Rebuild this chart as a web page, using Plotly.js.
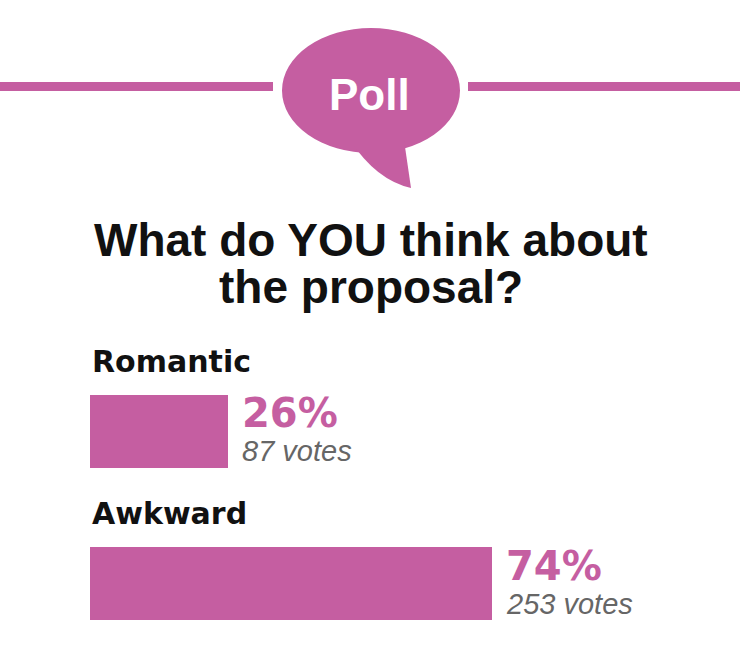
<!DOCTYPE html>
<html>
<head>
<meta charset="utf-8">
<script src="https://cdn.plot.ly/plotly-3.0.1.min.js"></script>
<style>
html,body{margin:0;padding:0;background:#fff;}
#chart{width:740px;height:667px;}
</style>
</head>
<body>
<div id="chart"></div>
<script>
// ---- data ----
var categories = ["Romantic", "Awkward"];
var votes = [87, 253];
var percentLabels = ["26%", "74%"];
var voteLabels = ["87 votes", "253 votes"];
var headerLabel = "Poll";
var titleLines = ["What do YOU think about", "the proposal?"];

// ---- styling / layout helpers ----
var PINK = "#c55ea1";
var W = 740, H = 667;
var M = {l: 90, r: 110, t: 355, b: 7};
var plotW = W - M.l - M.r, plotH = H - M.t - M.b;
function px(x) { return (x - M.l) / plotW; }
function py(y) { return (H - M.b - y) / plotH; }

var totalVotes = votes.reduce(function (a, b) { return a + b; }, 0);
var yIdx = categories.map(function (c, i) { return i; });

var trace = {
  type: "bar",
  orientation: "h",
  x: votes,
  y: yIdx,
  width: 0.479,
  marker: {color: PINK, line: {width: 0}},
  hoverinfo: "skip"
};

var annotations = [];
categories.forEach(function (c, i) {
  annotations.push({
    xref: "x", yref: "y", x: 0, y: i, xanchor: "left", yanchor: "middle",
    yshift: 70, showarrow: false, text: c,
    font: {family: "DejaVu Sans", size: 30, color: "#111", weight: "bold"}
  });
  annotations.push({
    xref: "x", yref: "y", x: votes[i], y: i, xanchor: "left", yanchor: "middle",
    xshift: 12, yshift: 18, showarrow: false, text: percentLabels[i],
    font: {family: "DejaVu Sans", size: 40, color: PINK, weight: "bold"}
  });
  annotations.push({
    xref: "x", yref: "y", x: votes[i], y: i, xanchor: "left", yanchor: "middle",
    xshift: 12, yshift: -20, showarrow: false, text: voteLabels[i],
    font: {family: "Liberation Sans", size: 29, color: "#666", style: "italic"}
  });
});
annotations.push({
  xref: "paper", yref: "paper", x: px(369), y: py(94), xanchor: "center", yanchor: "middle",
  showarrow: false, text: headerLabel,
  font: {family: "Liberation Sans", size: 44, color: "#fff", weight: "bold"}
});
var titleCenters = [240, 287];
titleLines.forEach(function (t, i) {
  annotations.push({
    xref: "paper", yref: "paper", x: px(370.5), y: py(titleCenters[i]),
    xanchor: "center", yanchor: "middle", showarrow: false, text: t,
    font: {family: "Liberation Sans", size: 46, color: "#111", weight: "bold"}
  });
});

var shapes = [
  {type: "rect", xref: "paper", yref: "paper", x0: px(0), x1: px(273), y0: py(82), y1: py(91),
   fillcolor: PINK, line: {width: 0}, layer: "above"},
  {type: "rect", xref: "paper", yref: "paper", x0: px(468), x1: px(740), y0: py(82), y1: py(91),
   fillcolor: PINK, line: {width: 0}, layer: "above"},
  {type: "circle", xref: "paper", yref: "paper", x0: px(282), x1: px(460), y0: py(28), y1: py(153),
   fillcolor: PINK, line: {width: 0}, layer: "above"},
  {type: "path", xref: "paper", yref: "paper", layer: "above", fillcolor: PINK, line: {width: 0},
   path: "M " + px(350) + "," + py(140) +
         " Q " + px(376) + "," + py(180) + " " + px(411) + "," + py(188) +
         " L " + px(404) + "," + py(140) + " Z"}
];

var layout = {
  width: W, height: H,
  margin: M,
  paper_bgcolor: "#fff", plot_bgcolor: "#fff",
  showlegend: false,
  hovermode: false,
  xaxis: {range: [0, totalVotes], showgrid: false, zeroline: false, showticklabels: false,
          showline: false, ticks: "", fixedrange: true},
  yaxis: {range: [1.5, -0.5], showgrid: false, zeroline: false, showticklabels: false,
          showline: false, ticks: "", fixedrange: true},
  annotations: annotations,
  shapes: shapes,
  bargap: 0
};

Plotly.newPlot("chart", [trace], layout, {displayModeBar: false, staticPlot: true});
</script>
</body>
</html>
